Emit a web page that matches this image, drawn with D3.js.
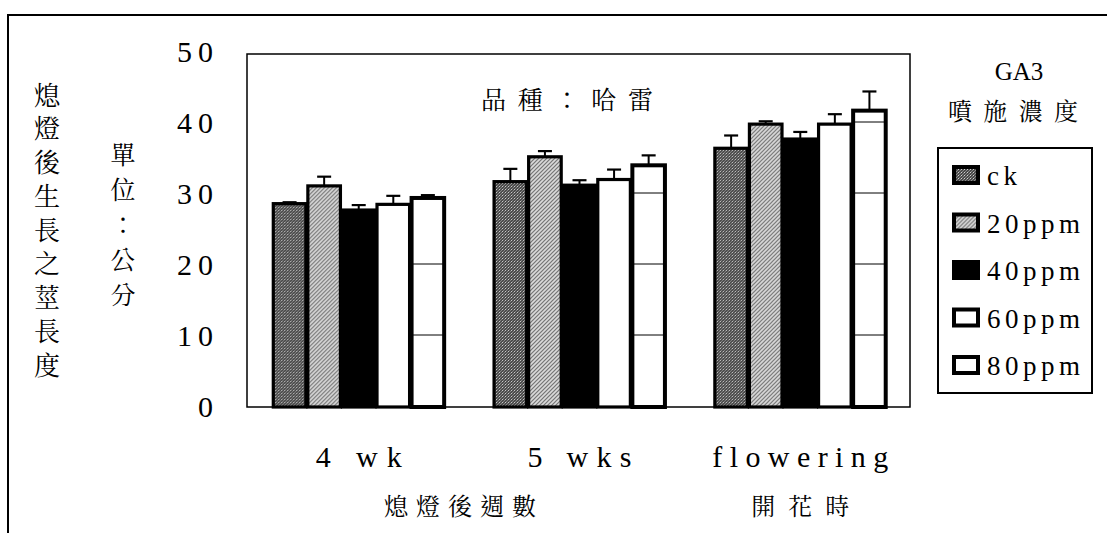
<!DOCTYPE html>
<html><head>
<script src="https://cdn.jsdelivr.net/npm/d3@7"></script>
</head>
<body style="margin:0">
<svg id="chart" width="1107" height="533"></svg>
<script>
// ---- data ----
const categories = ["4 wk", "5 wks", "flowering"];
const series = ["ck", "20ppm", "40ppm", "60ppm", "80ppm"];
const values = {
  "ck":    [28.5, 31.6, 36.3],
  "20ppm": [31.0, 35.1, 39.7],
  "40ppm": [27.6, 31.1, 37.6],
  "60ppm": [28.4, 31.9, 39.7],
  "80ppm": [29.3, 33.9, 41.6]
};
const errors = {
  "ck":    [0.2, 1.8, 1.8],
  "20ppm": [1.3, 0.8, 0.4],
  "40ppm": [0.7, 0.7, 1.0],
  "60ppm": [1.2, 1.4, 1.4],
  "80ppm": [0.4, 1.4, 2.7]
};
const yTicks = [0, 10, 20, 30, 40, 50];
const title = "品種：哈雷";
const yTitle = "熄燈後生長之莖長度";
const yUnit = "單位：公分";
const legendTitle1 = "GA3";
const legendTitle2 = "噴施濃度";
const xGroupLabels = ["熄燈後週數", "開花時"];

// ---- drawing ----
const LAT = "Liberation Serif";
const CJK = "Noto Serif CJK TC";
const svg = d3.select("#chart");
const defs = svg.append("defs");

const pCk = defs.append("pattern").attr("id","pck").attr("patternUnits","userSpaceOnUse").attr("width",3).attr("height",3);
pCk.append("rect").attr("width",3).attr("height",3).attr("fill","#4a4a4a");
[[0,0],[1,2],[2,1]].forEach(([a,b],i)=>pCk.append("rect").attr("x",a).attr("y",b).attr("width",1).attr("height",1).attr("fill", i===0?"#d0d0d0":"#8a8a8a"));
const pH = defs.append("pattern").attr("id","phatch").attr("patternUnits","userSpaceOnUse").attr("width",4).attr("height",4);
pH.append("rect").attr("width",4).attr("height",4).attr("fill","#dcdcdc");
pH.append("path").attr("d","M-1,1 L1,-1 M0,4 L4,0 M3,5 L5,3").attr("stroke","#707070").attr("stroke-width",1.2);

const fills = {
  "ck": "url(#pck)", "20ppm": "url(#phatch)", "40ppm": "#000", "60ppm": "#fff", "80ppm": "none"
};

function txt(sel, fam, size, len) {
  sel.attr("font-family", fam).style("font-family", fam, "important").attr("font-size", size);
  if (len) sel.attr("textLength", len).attr("lengthAdjust", "spacing");
  return sel;
}

svg.append("path").attr("d","M8,533 L8,15 L1107,15").attr("fill","none").attr("stroke","#000").attr("stroke-width",2);

const plot = {left:247, right:910, top:54, bottom:407};
const y = d3.scaleLinear().domain([0,50]).range([406, 51]);
const x0 = d3.scaleBand().domain(categories).range([plot.left+1, plot.right+1]).paddingInner(0.217).paddingOuter(0.11);
const x1 = d3.scaleBand().domain(series).range([0, x0.bandwidth()]).padding(0);

svg.append("rect").attr("x",plot.left).attr("y",plot.top).attr("width",plot.right-plot.left).attr("height",plot.bottom-plot.top)
  .attr("fill","#fff").attr("stroke","#000").attr("stroke-width",1.5);

// y tick labels
svg.append("g").selectAll("text").data(yTicks).join("text")
  .each(function(d){ txt(d3.select(this), LAT, 30, String(d).length > 1 ? 36 : null); })
  .attr("x",213).attr("y",d=>y(d)+11)
  .attr("text-anchor","end")
  .text(d=>d);

const groups = svg.append("g").selectAll("g").data(categories).join("g")
  .attr("transform",d=>`translate(${x0(d)},0)`);

groups.each(function(cat, ci){
  const g = d3.select(this);
  series.forEach(s=>{
    const v = values[s][ci];
    const bx = x1(s), bw = x1.bandwidth();
    if (s === "80ppm") {
      yTicks.filter(t=>t>0 && y(t) > y(v)+3).forEach(t=>{
        g.append("line").attr("x1",bx).attr("x2",bx+bw).attr("y1",y(t)).attr("y2",y(t))
          .attr("stroke","#000").attr("stroke-width",1);
      });
    }
    g.append("rect").attr("x",bx+1).attr("y",y(v)).attr("width",bw-2).attr("height",y(0)-y(v)+1)
      .attr("fill",fills[s]).attr("stroke","#000").attr("stroke-width", s==="80ppm"?4:3.2);
    const e = errors[s][ci];
    const cx = bx + bw/2;
    g.append("line").attr("x1",cx).attr("x2",cx).attr("y1",y(v)).attr("y2",y(v+e)).attr("stroke","#000").attr("stroke-width",2);
    g.append("line").attr("x1",cx-7).attr("x2",cx+7).attr("y1",y(v+e)).attr("y2",y(v+e)).attr("stroke","#000").attr("stroke-width",2.2);
  });
});

// x category labels
const catLen = {"4 wk": 86, "5 wks": 104, "flowering": 176};
svg.append("g").selectAll("text").data(categories).join("text")
  .each(function(d){ txt(d3.select(this), LAT, 30, catLen[d]); })
  .attr("x",d=>x0(d)+x0.bandwidth()/2).attr("y",467)
  .attr("text-anchor","middle")
  .text(d=>d);

// x group labels
const groupPos = [460, x0(categories[2])+x0.bandwidth()/2];
const grpLen = [152, 98];
svg.append("g").selectAll("text").data(xGroupLabels).join("text")
  .each(function(d,i){ txt(d3.select(this), CJK, 24, grpLen[i]); })
  .attr("x",(d,i)=>groupPos[i]).attr("y",515)
  .attr("text-anchor","middle")
  .text(d=>d);

// title
txt(svg.append("text"), CJK, 25, 172)
  .attr("x",567).attr("y",109)
  .attr("text-anchor","middle").text(title);

// vertical y titles
txt(svg.append("g").selectAll("text").data(Array.from(yTitle)).join("text"), CJK, 26)
  .attr("x",47).attr("y",(d,i)=>95+i*33.75+9.5)
  .attr("text-anchor","middle").text(d=>d);
txt(svg.append("g").selectAll("text").data(Array.from(yUnit)).join("text"), CJK, 25)
  .attr("x",123).attr("y",(d,i)=>155+i*35+9)
  .attr("text-anchor","middle").text(d=>d);

// legend titles
txt(svg.append("text"), LAT, 25)
  .attr("x",1019).attr("y",80)
  .attr("text-anchor","middle").text(legendTitle1);
txt(svg.append("text"), CJK, 24, 130)
  .attr("x",1013).attr("y",120)
  .attr("text-anchor","middle").text(legendTitle2);

// legend
svg.append("rect").attr("x",938).attr("y",148).attr("width",154).attr("height",245)
  .attr("fill","#fff").attr("stroke","#000").attr("stroke-width",2);
const leg = svg.append("g").selectAll("g").data(series).join("g")
  .attr("transform",(d,i)=>`translate(952,${175+i*47.5})`);
leg.append("rect").attr("x",2).attr("y",-8).attr("width",24).attr("height",16)
  .attr("fill",d=>d==="80ppm"?"#fff":fills[d]).attr("stroke","#000").attr("stroke-width",4);
leg.append("text")
  .each(function(d){ txt(d3.select(this), LAT, 27, d.length > 2 ? 93 : 30); })
  .attr("x",35).attr("y",10)
  .text(d=>d);
</script>
</body></html>
